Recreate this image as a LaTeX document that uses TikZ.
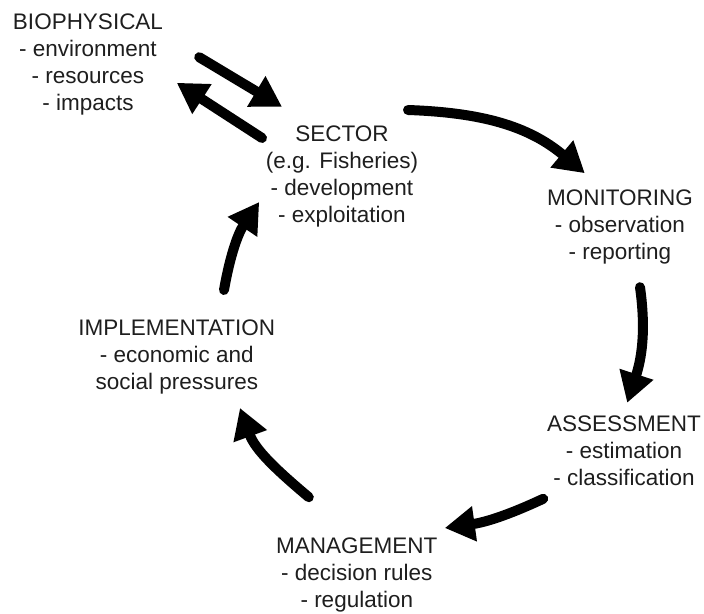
\documentclass[tikz,border=0pt]{standalone}
\usepackage{fontspec}
\setmainfont{Liberation Sans}
\usepackage{xcolor}
\usepackage{tikz}
\usetikzlibrary{arrows.meta}
\definecolor{Ink}{HTML}{1E1E1E}

\begin{document}
\begin{tikzpicture}[
  stage/.style={font=\fontsize{16pt}{19.2pt}\selectfont,color=Ink,
    align=center,inner sep=0pt,anchor=north},
  flow/.style={-{Triangle[length=7.5mm,width=8.4mm]},line width=2.5mm,
    line cap=round,color=black}
]
\useasboundingbox (0,0) rectangle (17.6,15.35);

% Stages of the cycle.
\node[stage] (biophys) at (2.20,15.00)
  {BIOPHYSICAL\\- environment\\- resources\\- impacts};
\node[stage] (sector) at (8.55,12.22)
  {SECTOR\\(e.g. Fisheries)\\- development\\- exploitation};
\node[stage] (monitor) at (15.50,10.60)
  {MONITORING\\- observation\\- reporting};
\node[stage] (assess) at (15.60,4.97)
  {ASSESSMENT\\- estimation\\- classification};
\node[stage] (manage) at (8.92,1.92)
  {MANAGEMENT\\- decision rules\\- regulation};
\node[stage] (implement) at (4.42,7.35)
  {IMPLEMENTATION\\- economic and\\social pressures};

% Arrow ends.
\coordinate (bio-out) at (4.98,13.92);
\coordinate (sec-in) at (7.05,12.68);
\coordinate (sec-back) at (6.55,11.90);
\coordinate (bio-in) at (4.42,13.28);
\coordinate (sec-out) at (10.20,12.60);
\coordinate (mon-in) at (14.62,11.02);
\coordinate (mon-out) at (16.00,8.17);
\coordinate (ass-in) at (15.68,5.28);
\coordinate (ass-out) at (13.58,2.88);
\coordinate (man-in) at (11.12,2.15);
\coordinate (man-out) at (7.72,2.92);
\coordinate (imp-in) at (6.00,5.15);
\coordinate (imp-out) at (5.60,8.10);
\coordinate (sec-up) at (6.48,10.30);

% Flows between stages.
\draw[flow] (bio-out)--(sec-in);
\draw[flow] (sec-back)--(bio-in);
\draw[flow] (sec-out) to[out=-2,in=140] (mon-in);
\draw[flow] (mon-out) to[out=-82,in=72] (ass-in);
\draw[flow] (ass-out) to[out=205,in=8] (man-in);
\draw[flow] (man-out) to[out=140,in=-70] (imp-in);
\draw[flow] (imp-out) to[out=80,in=236] (sec-up);
\end{tikzpicture}
\end{document}
